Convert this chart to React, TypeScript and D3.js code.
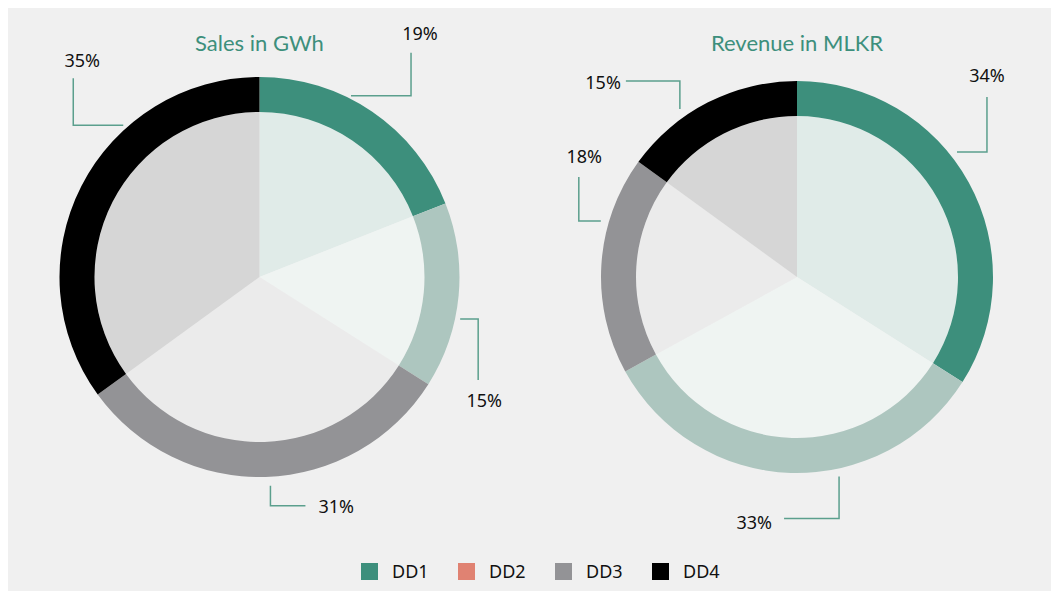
import React from "react";
import * as d3 from "d3";

const categories = ["DD1", "DD2", "DD3", "DD4"];
const legendColors = ["#3d8f7c", "#e08272", "#939396", "#000000"];
const salesValues = [19, 15, 31, 35];
const revenueValues = [34, 33, 18, 15];
const chartTitles = ["Sales in GWh", "Revenue in MLKR"];

// ring / inner fill colours per slice (as drawn in the reference)
const ringColors = ["#3d8f7c", "#adc6bf", "#939396", "#000000"];
const innerColors = ["#e0ebe8", "#eff4f2", "#ebebeb", "#d6d6d6"];

// leader layout: anchor angle (deg), anchor radius, elbow [dx1, dy1] then [dx2, dy2], text anchor, text offset
type Leader = { ang: number; r: number; seg: [number, number][]; ta: "start" | "middle" | "end"; tdx: number; tdy: number };
const salesLeaders: Leader[] = [
  { ang: 26.8, r: 203, seg: [[60, 0], [0, -43]], ta: "middle", tdx: 9, tdy: -13 },
  { ang: 101.8, r: 205, seg: [[18, 0], [0, 61]], ta: "middle", tdx: 6, tdy: 27 },
  { ang: 177, r: 209, seg: [[0, 20], [35, 0]], ta: "start", tdx: 13, tdy: 7 },
  { ang: 318.1, r: 204, seg: [[-50, 0], [0, -47]], ta: "middle", tdx: 9, tdy: -11 },
];
const revenueLeaders: Leader[] = [
  { ang: 52, r: 203, seg: [[30, 0], [0, -55]], ta: "middle", tdx: 0, tdy: -15 },
  { ang: 168.1, r: 204, seg: [[0, 42], [-55, 0]], ta: "end", tdx: -12, tdy: 10 },
  { ang: 285.9, r: 204, seg: [[-22, 0], [0, -44]], ta: "middle", tdx: 5.5, tdy: -14 },
  { ang: 325.1, r: 204.7, seg: [[0, -28], [-54, 0]], ta: "end", tdx: -5, tdy: 8 },
];

const W = 1051;
const H = 591;
const FONT = "'Noto Sans', 'Open Sans', sans-serif";
const TEAL = "#5b9f8d";

function Pie({ values, title, cx, cy, r, thick, leaders }: { values: number[]; title: string; cx: number; cy: number; r: number; thick: number; leaders: Leader[] }) {
  const pie = d3.pie<number>().sort(null).value((d) => d)(values);
  const ring = d3.arc<d3.PieArcDatum<number>>().innerRadius(r - thick).outerRadius(r);
  const inner = d3.arc<d3.PieArcDatum<number>>().innerRadius(0).outerRadius(r - thick);
  const total = d3.sum(values);
  return (
    <g>
      <text x={cx} y={51} textAnchor="middle" fill="#3d8f7c" fontFamily="Lato, sans-serif" fontSize={22}>{title}</text>
      <g transform={`translate(${cx},${cy})`}>
        {pie.map((d, i) => (
          <path key={"i" + i} d={inner(d) || ""} fill={innerColors[i]} />
        ))}
        {pie.map((d, i) => (
          <path key={"r" + i} d={ring(d) || ""} fill={ringColors[i]} />
        ))}
      </g>
      {leaders.map((l, i) => {
        const a = (l.ang * Math.PI) / 180;
        const x0 = cx + l.r * Math.sin(a);
        const y0 = cy - l.r * Math.cos(a);
        const pts: [number, number][] = [[x0, y0]];
        let x = x0, y = y0;
        l.seg.forEach(([dx, dy]) => { x += dx; y += dy; pts.push([x, y]); });
        const line = d3.line()(pts) || "";
        const pct = Math.round((values[i] / total) * 100) + "%";
        return (
          <g key={"l" + i}>
            <path d={line} fill="none" stroke={TEAL} strokeWidth={1.5} />
            <text x={x + l.tdx} y={y + l.tdy} textAnchor={l.ta} fontFamily={FONT} fontSize={18} fill="#111">{pct}</text>
          </g>
        );
      })}
    </g>
  );
}

export default function App() {
  const legendX = d3.scalePoint<string>().domain(categories).range([361, 652]);
  return (
    <svg width={W} height={H} style={{ position: "absolute", left: 0, top: 0 }}>
      <rect x={0} y={0} width={W} height={H} fill="#ffffff" />
      <rect x={8} y={8} width={W - 8} height={H - 8} fill="#f0f0f0" />
      <Pie values={salesValues} title={chartTitles[0]} cx={259.5} cy={277} r={200} thick={35} leaders={salesLeaders} />
      <Pie values={revenueValues} title={chartTitles[1]} cx={797} cy={277} r={196} thick={35} leaders={revenueLeaders} />
      {categories.map((c, i) => (
        <g key={c} transform={`translate(${legendX(c)},563)`}>
          <rect width={17} height={17} fill={legendColors[i]} />
          <text x={31} y={15} fontFamily={FONT} fontSize={18} fill="#111">{c}</text>
        </g>
      ))}
    </svg>
  );
}
